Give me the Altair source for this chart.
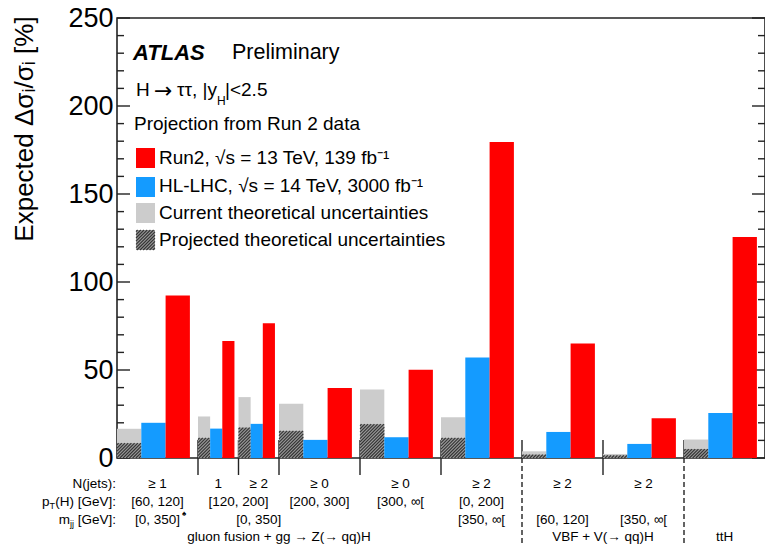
import altair as alt
import pandas as pd

FONT = "Liberation Sans"

# category layout (relative widths of the nine measurement bins)
bin_width = [1, 0.5, 0.5, 1, 1, 1, 1, 1, 1]

# expected relative uncertainties in percent
run2 = [92.3, 66.5, 76.6, 39.8, 50.2, 179.5, 65.1, 22.6, 125.5]
hllhc = [20.0, 16.7, 19.4, 10.3, 11.8, 57.1, 14.8, 8.0, 25.5]
theory_current = [16.6, 23.6, 34.6, 30.8, 38.9, 23.2, 3.8, 2.3, 10.5]
theory_projected = [8.4, 11.4, 17.3, 15.4, 19.2, 11.4, 1.9, 1.5, 5.1]

# y axis labels
y_labels = [0, 50, 100, 150, 200, 250]

# bin labels under the axis
njets_labels = ["≥ 1", "1", "≥ 2", "≥ 0", "≥ 0", "≥ 2", "≥ 2", "≥ 2", ""]
pt_labels = ["[60, 120]", "[120, 200]", "[200, 300]", "[300, ∞[", "[0, 200]"]
pt_spans = [(0, 0), (1, 2), (3, 3), (4, 4), (5, 5)]
mjj_labels = ["[0, 350]", "[0, 350]", "[350, ∞[", "[60, 120]", "[350, ∞["]
mjj_spans = [(0, 0), (2, 2), (5, 5), (6, 6), (7, 7)]
process_labels = ["gluon fusion + gg → Z(→ qq)H", "VBF + V(→ qq)H", "ttH"]
process_spans = [(1, 3), (6, 7), (8, 8)]
# bin boundaries (edge index) that continue as dashed separators
dashed_edges = [6, 8]

W, H = 648, 440
X_MAX, Y_MAX = 8, 250
PX_X = W / X_MAX
PX_Y = H / Y_MAX
LEFT, TOP = 117, 18

RED = "#ff0000"
BLUE = "#149bff"
GRAY = "#cccccc"
HATCH_BG = "#9a9a9a"
HATCH_LINE = "#333333"

edges = [0.0]
for w in bin_width:
    edges.append(edges[-1] + w)

xs = alt.Scale(domain=[0, X_MAX], nice=False, zero=False)
ys = alt.Scale(domain=[0, Y_MAX], nice=False)
y_axis = alt.Axis(values=y_labels, ticks=False, domain=False, grid=False,
                  title=None, labelFont=FONT, labelFontSize=27,
                  labelColor="black", labelPadding=4)


def X(field):
    return alt.X(field, scale=xs, axis=None)


def Y(field):
    return alt.Y(field, scale=ys, axis=y_axis)


def bars(values, start, stop):
    rows = []
    for i, v in enumerate(values):
        w = bin_width[i]
        rows.append({"x0": edges[i] + start * w, "x1": edges[i] + stop * w,
                     "v": float(v), "z": 0.0})
    return pd.DataFrame(rows)


def hatch_segments(x0, x1, y0, y1, step=3.2):
    # diagonal "/" lines clipped to a rectangle given in data units
    X0, X1 = x0 * PX_X, x1 * PX_X
    Y0, Y1 = y0 * PX_Y, y1 * PX_Y
    h = Y1 - Y0
    segs = []
    t = X0 - h + step / 2
    while t < X1:
        xa, xb = max(X0, t), min(X1, t + h)
        if xb > xa:
            segs.append({"xa": float(xa / PX_X), "ya": float((Y0 + xa - t) / PX_Y),
                         "xb": float(xb / PX_X), "yb": float((Y0 + xb - t) / PX_Y)})
        t += step
    return segs


def rect_layer(df, color):
    return alt.Chart(df).mark_rect(color=color).encode(
        x=X("x0:Q"), x2="x1:Q", y=Y("v:Q"), y2="z:Q")


def text(t, x, y, size, align="left", weight="normal", style="normal", angle=0, font=FONT):
    return alt.Chart(pd.DataFrame({"label": [t]})).mark_text(
        align=align, baseline="middle", font=font, fontSize=size,
        fontWeight=weight, fontStyle=style, color="black", angle=angle,
    ).encode(x=alt.value(x - LEFT), y=alt.value(y - TOP), text="label:N")


def swatch(color, x0, x1, y0, y1):
    return alt.Chart(pd.DataFrame({"a": [0]})).mark_rect(color=color).encode(
        x=alt.value(x0 - LEFT), x2=alt.value(x1 - LEFT),
        y=alt.value(y0 - TOP), y2=alt.value(y1 - TOP),
    )


layers = []

# inward-pointing y ticks on both sides of the frame
tick_vals = list(range(0, Y_MAX + 1, 10))
major = pd.DataFrame({"v": [float(v) for v in tick_vals if v % 50 == 0]})
minor = pd.DataFrame({"v": [float(v) for v in tick_vals if v % 50 != 0]})
for df, ln in ((major, 13), (minor, 7)):
    layers.append(alt.Chart(df).mark_rule(color="#222", strokeWidth=1.4).encode(
        y=Y("v:Q"), x=alt.value(0), x2=alt.value(ln)))
    layers.append(alt.Chart(df).mark_rule(color="#222", strokeWidth=1.4).encode(
        y=Y("v:Q"), x=alt.value(W - ln), x2=alt.value(W)))

# bin boundary ticks on the x axis
inner_idx = list(range(1, len(edges) - 1))
inner = pd.DataFrame({"e": [edges[i] for i in inner_idx]})
solid = pd.DataFrame({"e": [edges[i] for i in inner_idx if i not in dashed_edges]})
dashed = pd.DataFrame({"e": [edges[i] for i in inner_idx if i in dashed_edges]})
layers.append(alt.Chart(inner).mark_rule(color="#222", strokeWidth=1.4).encode(
    x=X("e:Q"), y=alt.value(H - 18), y2=alt.value(H)))
layers.append(alt.Chart(solid).mark_rule(color="#222", strokeWidth=1.4).encode(
    x=X("e:Q"), y=alt.value(H), y2=alt.value(H + 17)))
layers.append(alt.Chart(dashed).mark_rule(color="#222", strokeWidth=1.4, strokeDash=[5, 3]).encode(
    x=X("e:Q"), y=alt.value(H), y2=alt.value(546 - TOP)))

# theory uncertainty bars: current (light gray) with projected (hatched) in front
layers.append(rect_layer(bars(theory_current, 0.0, 0.3), GRAY))
proj = bars(theory_projected, 0.0, 0.3)
layers.append(rect_layer(proj, HATCH_BG))
segs = []
for r in proj.itertuples():
    segs += hatch_segments(r.x0, r.x1, 0.0, r.v)
layers.append(alt.Chart(pd.DataFrame(segs)).mark_rule(color=HATCH_LINE, strokeWidth=1.1).encode(
    x=X("xa:Q"), y=Y("ya:Q"), x2="xb:Q", y2="yb:Q"))

# measurement projections
layers.append(rect_layer(bars(hllhc, 0.3, 0.6), BLUE))
layers.append(rect_layer(bars(run2, 0.6, 0.9), RED))

# header and legend inside the frame
layers += [
    text("ATLAS", 133, 53, 22, weight="bold", style="italic"),
    text("Preliminary", 232, 53, 21.5),
    text("H", 136, 90, 19),
    text("→", 154, 91, 22, font="DejaVu Sans"),
    text("ττ, |y", 177, 90, 19),
    text("H", 217, 101, 12),
    text("|<2.5", 225, 90, 19),
    text("Projection from Run 2 data", 134, 124, 19),
    swatch(RED, 136, 155, 148, 168),
    swatch(BLUE, 136, 155, 177, 197),
    swatch(GRAY, 136, 155, 203, 223),
    text("Run2, √s = 13 TeV, 139 fb⁻¹", 159, 158, 19),
    text("HL-LHC, √s = 14 TeV, 3000 fb⁻¹", 159, 186, 19),
    text("Current theoretical uncertainties", 159, 213, 19),
    text("Projected theoretical uncertainties", 159, 240, 19),
]


def px_to_x(px):
    return (px - LEFT) / PX_X


def px_to_y(py):
    return (H - (py - TOP)) / PX_Y


hx0, hx1, hy0, hy1 = px_to_x(136), px_to_x(155), px_to_y(250), px_to_y(230)
layers.append(alt.Chart(pd.DataFrame({"x0": [hx0], "x1": [hx1], "v": [hy1], "z": [hy0]}))
              .mark_rect(color=HATCH_BG).encode(
                  x=X("x0:Q"), x2="x1:Q", y=Y("v:Q"), y2="z:Q"))
layers.append(alt.Chart(pd.DataFrame(hatch_segments(hx0, hx1, hy0, hy1)))
              .mark_rule(color=HATCH_LINE, strokeWidth=1.1).encode(
                  x=X("xa:Q"), y=Y("ya:Q"), x2="xb:Q", y2="yb:Q"))

# y axis title
layers.append(text("Expected Δσᵢ/σᵢ [%]", 25, 129, 26, align="center", angle=270))

# row headers under the axis
layers += [
    text("N(jets):", 116, 484, 13.5, align="right"),
    text("(H) [GeV]:", 116, 502, 13.5, align="right"),
    text("T", 55, 506, 9, align="right"),
    text("p", 49.5, 502, 13.5, align="right"),
    text("[GeV]:", 116, 520, 13.5, align="right"),
    text("jj", 74, 524, 9, align="right"),
    text("m", 70, 520, 13.5, align="right"),
    text("♠", 182, 514, 8),
]


def span_center(span):
    a, b = span
    return float((edges[a] + edges[b + 1]) / 2)


def row_layer(labels, centers, y):
    df = pd.DataFrame({"c": centers, "label": labels})
    return alt.Chart(df).mark_text(font=FONT, fontSize=13.5, color="black",
                                   baseline="middle", align="center").encode(
        x=X("c:Q"), y=alt.value(y - TOP), text="label:N")


layers.append(row_layer(njets_labels, [span_center((i, i)) for i in range(len(bin_width))], 484))
layers.append(row_layer(pt_labels, [span_center(s) for s in pt_spans], 502))
layers.append(row_layer(mjj_labels, [span_center(s) for s in mjj_spans], 520))
layers.append(row_layer(process_labels, [span_center(s) for s in process_spans], 537))

chart = alt.layer(*layers).properties(
    width=W, height=H,
    autosize=alt.AutoSizeParams(type="none"),
    padding={"left": LEFT, "top": TOP, "right": 0, "bottom": 546 - TOP - H},
).configure_view(stroke="#222", strokeWidth=1.6)

chart.save("out.html", embed_options={"renderer": "svg", "actions": False})
